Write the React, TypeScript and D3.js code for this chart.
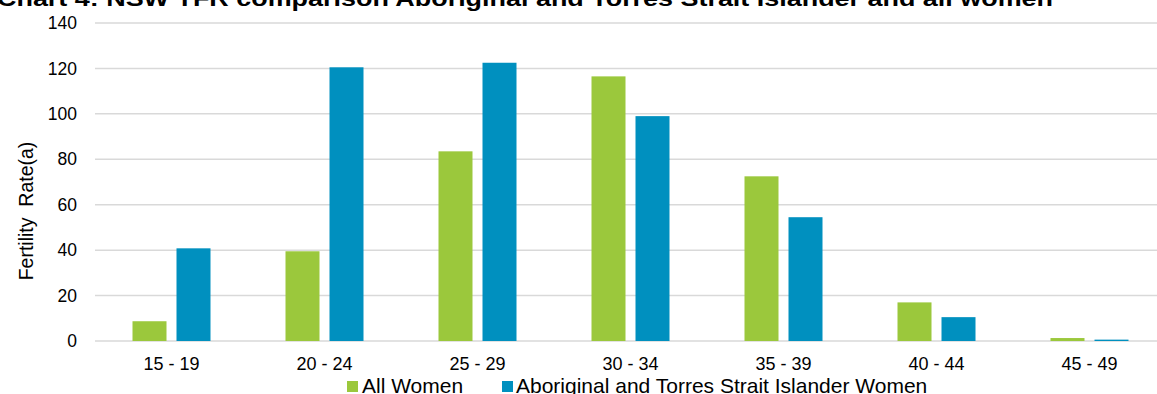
import React from 'react';
import * as d3 from 'd3';

const width = 1157;
const height = 394;
const margin = { top: 23, right: -9, bottom: 53, left: 95 };

const ageGroups = ['15 - 19', '20 - 24', '25 - 29', '30 - 34', '35 - 39', '40 - 44', '45 - 49'];
const allWomen = [8.7, 39.5, 83.5, 116.5, 72.5, 17, 1.3];
const aboriginalWomen = [40.8, 120.5, 122.5, 99, 54.5, 10.5, 0.6];
const yTicks = [0, 20, 40, 60, 80, 100, 120, 140];

const seriesNames = ['All Women', 'Aboriginal and Torres Strait Islander Women'];
const colors = ['#9BC83C', '#0090BF'];

const title = 'Chart 4: NSW TFR comparison Aboriginal and Torres Strait Islander and all women';

function App() {
  const innerW = width - margin.left - margin.right;
  const innerH = height - margin.top - margin.bottom;

  const x = d3.scaleBand().domain(ageGroups).range([0, innerW]).paddingInner(0).paddingOuter(0);
  const y = d3.scaleLinear().domain([0, 140]).range([innerH, 0]);

  const barW = 34;
  const gap = 10;
  const series = [allWomen, aboriginalWomen];

  return (
    <svg width={width} height={height} style={{ display: 'block', position: 'absolute', left: 0, top: 0 }}
      fontFamily="Arial, 'Liberation Sans', sans-serif">
      <text x={-3} y={6} fontSize={22} fontWeight="bold" fill="#000"
        textLength={1056} lengthAdjust="spacingAndGlyphs">{title}</text>
      <g transform={`translate(${margin.left},${margin.top})`}>
        {yTicks.map((t) => (
          <g key={t}>
            <line x1={0} x2={innerW} y1={y(t)} y2={y(t)} stroke="#d9d9d9" strokeWidth={1.5} />
            <text x={-18} y={y(t)} dy="0.35em" textAnchor="end" fontSize={17.5} fill="#000">{t}</text>
          </g>
        ))}
        {ageGroups.map((g, i) => {
          const cx = (x(g) as number) + x.bandwidth() / 2;
          return (
            <g key={g}>
              {series.map((s, j) => {
                const bx = j === 0 ? cx - gap / 2 - barW : cx + gap / 2;
                return (
                  <rect key={j} x={bx} y={y(s[i])} width={barW} height={innerH - y(s[i])} fill={colors[j]} />
                );
              })}
              <text x={cx} y={innerH + 28.5} textAnchor="middle" fontSize={18} fill="#000">{g}</text>
            </g>
          );
        })}
      </g>
      <text transform={`translate(33,211) rotate(-90)`} textAnchor="middle" fontSize={19.5} fill="#000"
        style={{ whiteSpace: 'pre' }}>{'Fertility  Rate(a)'}</text>
      <g transform="translate(347,393)">
        <rect x={0} y={-12} width={11} height={11} fill={colors[0]} />
        <text x={15} y={0} fontSize={21} fill="#000">{seriesNames[0]}</text>
        <rect x={155} y={-12} width={11} height={11} fill={colors[1]} />
        <text x={169} y={0} fontSize={21} fill="#000">{seriesNames[1]}</text>
      </g>
    </svg>
  );
}

export default App;
